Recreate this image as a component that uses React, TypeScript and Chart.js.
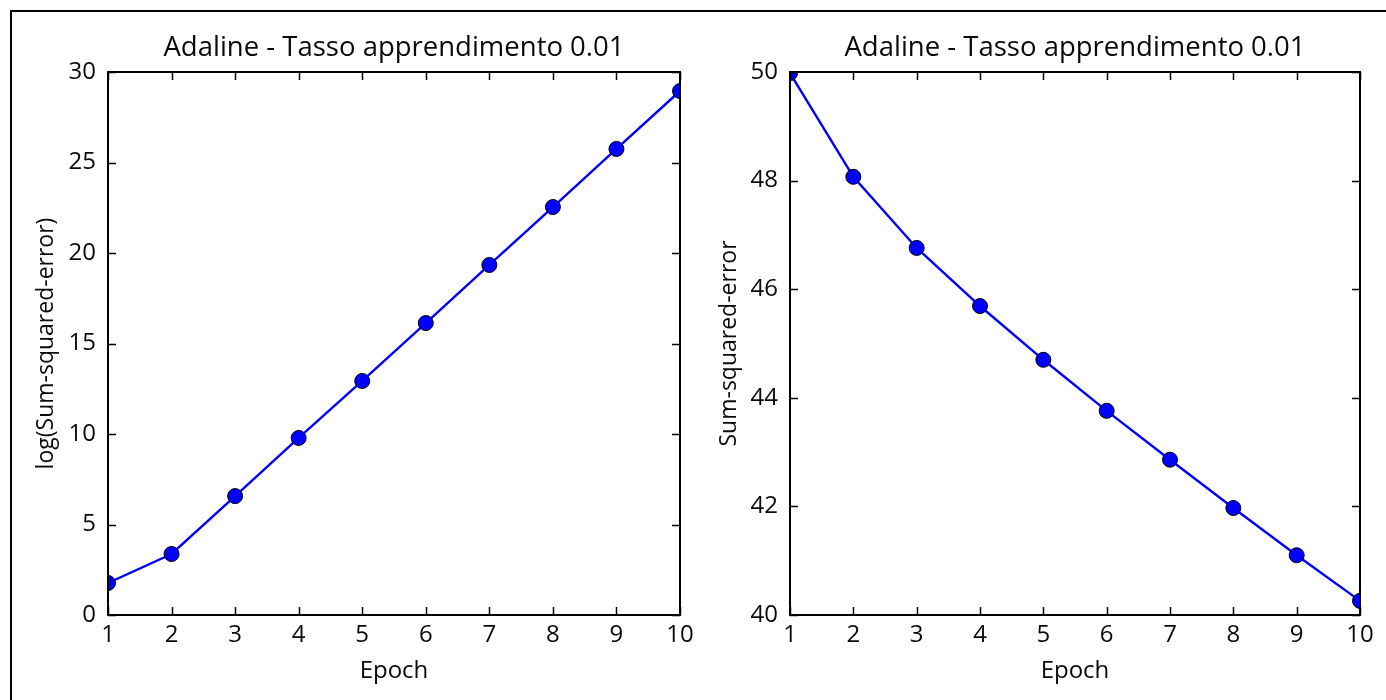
import { useEffect, useRef } from "react";
import { Chart, registerables } from "chart.js";

Chart.register(...registerables);

// Training history of the Adaline classifier, one value per epoch
const epochs = [1, 2, 3, 4, 5, 6, 7, 8, 9, 10];
const logSumSquaredError = [1.77, 3.37, 6.57, 9.78, 12.93, 16.13, 19.34, 22.54, 25.75, 28.95];
const sumSquaredError = [49.98, 48.07, 46.76, 45.69, 44.7, 43.76, 42.86, 41.97, 41.1, 40.26];

const chartTitle = "Adaline - Tasso apprendimento 0.01";
const xAxisLabel = "Epoch";
const leftYAxisLabel = "log(Sum-squared-error)";
const rightYAxisLabel = "Sum-squared-error";

// y-axis ranges: [min, max, step]
const leftYRange = [0, 30, 5];
const rightYRange = [40, 50, 2];

const FONT = "'Open Sans', 'DejaVu Sans', sans-serif";
const TEXT = "#0a0a0a";
const PAGE_W = 1386;
const PAGE_H = 700;

// Black frame with inward tick marks on all four sides
const framePlugin = {
  id: "frameTicks",
  afterDatasetsDraw(chart: any) {
    const { ctx, chartArea: a, scales } = chart;
    const xs = scales.x;
    const ys = scales.y;
    const len = 8;
    ctx.save();
    ctx.strokeStyle = "#000";
    ctx.lineWidth = 1.5;
    ctx.beginPath();
    xs.ticks.forEach((t: any) => {
      const px = Math.round(xs.getPixelForValue(t.value)) + 0.5;
      ctx.moveTo(px, a.bottom);
      ctx.lineTo(px, a.bottom - len);
      ctx.moveTo(px, a.top);
      ctx.lineTo(px, a.top + len);
    });
    ys.ticks.forEach((t: any) => {
      const py = Math.round(ys.getPixelForValue(t.value)) + 0.5;
      ctx.moveTo(a.left, py);
      ctx.lineTo(a.left + len, py);
      ctx.moveTo(a.right, py);
      ctx.lineTo(a.right - len, py);
    });
    ctx.stroke();
    ctx.lineWidth = 2;
    ctx.strokeRect(a.left, a.top, a.right - a.left, a.bottom - a.top);
    ctx.restore();
  },
};

function makeConfig(
  values: number[],
  range: number[],
  yLabel: string,
  padding: { left: number; right: number },
  yTitlePad: number
): any {
  return {
    type: "line",
    data: {
      datasets: [
        {
          data: epochs.map((e, i) => ({ x: e, y: values[i] })),
          borderColor: "#0000ff",
          backgroundColor: "#0000ff",
          borderWidth: 2.4,
          pointBackgroundColor: "#0000ff",
          pointBorderColor: "#000000",
          pointBorderWidth: 1,
          pointRadius: 7.5,
          tension: 0,
          clip: 0,
        },
      ],
    },
    options: {
      responsive: false,
      animation: false,
      events: [],
      layout: { padding: { left: padding.left, right: padding.right, top: 0, bottom: 5 } },
      plugins: {
        legend: { display: false },
        tooltip: { enabled: false },
        title: {
          display: true,
          text: chartTitle,
          fullSize: false,
          color: TEXT,
          font: { family: FONT, size: 27.5, weight: "normal" },
          padding: { top: 32, bottom: 7 },
        },
      },
      scales: {
        x: {
          type: "linear",
          min: epochs[0],
          max: epochs[epochs.length - 1],
          afterFit: (s: any) => {
            s.height = 80;
          },
          grid: { display: false, drawTicks: false },
          border: { display: false },
          ticks: {
            stepSize: 1,
            padding: 6,
            color: TEXT,
            font: { family: FONT, size: 24 },
            maxRotation: 0,
          },
          title: {
            display: true,
            text: xAxisLabel,
            color: TEXT,
            font: { family: FONT, size: 24 },
            padding: { top: 0, bottom: 9 },
          },
        },
        y: {
          type: "linear",
          min: range[0],
          max: range[1],
          afterFit: (s: any) => {
            s.width = 80;
          },
          grid: { display: false, drawTicks: false },
          border: { display: false },
          ticks: {
            stepSize: range[2],
            padding: 12,
            color: TEXT,
            font: { family: FONT, size: 24 },
          },
          title: {
            display: true,
            text: yLabel,
            color: TEXT,
            font: { family: FONT, size: 23 },
            padding: { top: yTitlePad, bottom: 0 },
          },
        },
      },
    },
    plugins: [framePlugin],
  };
}

function LineCanvas(props: {
  values: number[];
  range: number[];
  yLabel: string;
  padding: { left: number; right: number };
  yTitlePad: number;
}) {
  const ref = useRef<HTMLCanvasElement | null>(null);
  useEffect(() => {
    if (!ref.current) return;
    const chart = new Chart(
      ref.current,
      makeConfig(props.values, props.range, props.yLabel, props.padding, props.yTitlePad)
    );
    return () => chart.destroy();
  }, []);
  return (
    <canvas
      ref={ref}
      width={PAGE_W}
      height={PAGE_H}
      style={{ position: "absolute", left: 0, top: 0, width: PAGE_W, height: PAGE_H }}
    />
  );
}

export default function App() {
  return (
    <div
      style={{
        position: "fixed",
        left: 0,
        top: 0,
        width: PAGE_W,
        height: PAGE_H,
        background: "#ffffff",
        overflow: "hidden",
      }}
    >
      <div
        style={{
          position: "absolute",
          left: 10,
          top: 10,
          width: PAGE_W,
          height: PAGE_H,
          borderTop: "2px solid #000",
          borderLeft: "2px solid #000",
        }}
      />
      <LineCanvas
        values={logSumSquaredError}
        range={leftYRange}
        yLabel={leftYAxisLabel}
        padding={{ left: 28, right: PAGE_W - 680 }}
        yTitlePad={5}
      />
      <LineCanvas
        values={sumSquaredError}
        range={rightYRange}
        yLabel={rightYAxisLabel}
        padding={{ left: 710, right: PAGE_W - 1360 }}
        yTitlePad={6}
      />
    </div>
  );
}
